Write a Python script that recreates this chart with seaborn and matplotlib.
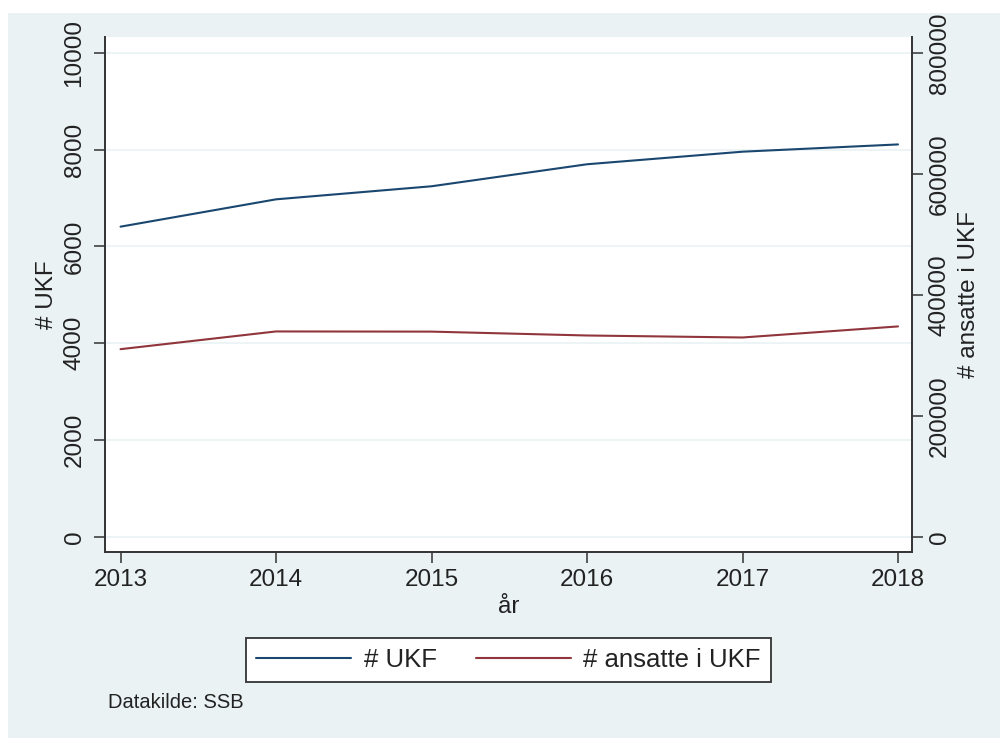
import matplotlib
matplotlib.use('Agg')
import matplotlib.pyplot as plt
import seaborn as sns
from matplotlib.patches import Rectangle

# verdier lest av figuren
aar = [2013, 2014, 2015, 2016, 2017, 2018]
antall_ukf = [6410, 6975, 7245, 7700, 7960, 8110]
ansatte_ukf = [310200, 339500, 339200, 332800, 329500, 347800]

yticks_venstre = [0, 2000, 4000, 6000, 8000, 10000]
yticks_hoyre = [0, 200000, 400000, 600000, 800000]

farge_ukf = '#1a476f'
farge_ansatte = '#90353b'
bakgrunn = '#eaf2f3'
tekst = '#222222'
akse = '#333333'

sns.set_style('white')
plt.rcParams['font.family'] = ['Liberation Sans', 'DejaVu Sans']

fig = plt.figure(figsize=(10, 7.38), dpi=100, facecolor='white')
# Stata-aktig bakgrunn
fig.add_artist(Rectangle((0.008, 0), 0.992, 1 - 13 / 738, transform=fig.transFigure,
                         facecolor=bakgrunn, edgecolor='none', zorder=-1))

ax = fig.add_axes([0.105, 186 / 738, 0.807, 515 / 738])
ax.set_facecolor('white')
sns.lineplot(x=aar, y=antall_ukf, ax=ax, color=farge_ukf, linewidth=1.5, label='# UKF')

ax2 = ax.twinx()
sns.lineplot(x=aar, y=ansatte_ukf, ax=ax2, color=farge_ansatte, linewidth=1.5, label='# ansatte i UKF')

ax.set_xlim(2012.9, 2018.09)
ax.set_ylim(-316, 10331)
ax2.set_ylim(-316 * 80, 10331 * 80)

ax.set_xticks(aar)
ax.set_xticklabels([str(a) for a in aar])
ax.set_yticks(yticks_venstre)
ax.set_yticklabels([str(v) for v in yticks_venstre], rotation=90, va='center')
ax2.set_yticks(yticks_hoyre)
ax2.set_yticklabels([str(v) for v in yticks_hoyre], rotation=90, va='center')

ax.grid(axis='y', color=bakgrunn, linewidth=1.2)
ax.grid(axis='x', visible=False)
ax2.grid(False)

for s in ['top', 'right']:
    ax.spines[s].set_visible(False)
for s in ['top', 'left', 'bottom']:
    ax2.spines[s].set_visible(False)
for s in ['left', 'bottom']:
    ax.spines[s].set_color(akse)
    ax.spines[s].set_linewidth(1.4)
ax2.spines['right'].set_color(akse)
ax2.spines['right'].set_linewidth(1.4)

ax.tick_params(axis='x', bottom=True, direction='out', length=8, width=1.1, color=akse,
               labelsize=17.5, labelcolor=tekst, pad=4)
ax.tick_params(axis='y', left=True, direction='out', length=8, width=1.1, color=akse,
               labelsize=17.5, labelcolor=tekst, pad=6)
ax2.tick_params(axis='y', right=True, direction='out', length=8, width=1.1, color=akse,
                labelsize=17.5, labelcolor=tekst, pad=4)

ax.set_xlabel('år', fontsize=17.5, color=tekst)
ax.xaxis.set_label_coords(0.5, -0.085)
ax.set_ylabel('# UKF', fontsize=17.5, color=tekst)
ax.yaxis.set_label_coords(-0.058, 0.5)
ax2.set_ylabel('# ansatte i UKF', fontsize=17.5, color=tekst)
ax2.yaxis.set_label_coords(1.057, 0.5)

# felles legend under figuren
h1, l1 = ax.get_legend_handles_labels()
h2, l2 = ax2.get_legend_handles_labels()
ax.get_legend().remove()
ax2.get_legend().remove()
leg = fig.legend(h1 + h2, l1 + l2, loc='center', bbox_to_anchor=(0.5085, 1 - 660 / 738),
                 ncol=2, frameon=True, fancybox=False, framealpha=1, edgecolor=akse,
                 facecolor='white', fontsize=18.5, handlelength=3.7, handletextpad=0.5,
                 columnspacing=1.5, borderpad=0.4)
leg.get_frame().set_linewidth(1.3)
for t in leg.get_texts():
    t.set_color(tekst)

fig.text(0.108, 1 - 702 / 738, 'Datakilde: SSB', fontsize=14.5, color=tekst, va='center', ha='left')

fig.savefig('out.png', dpi=100, facecolor='white')
